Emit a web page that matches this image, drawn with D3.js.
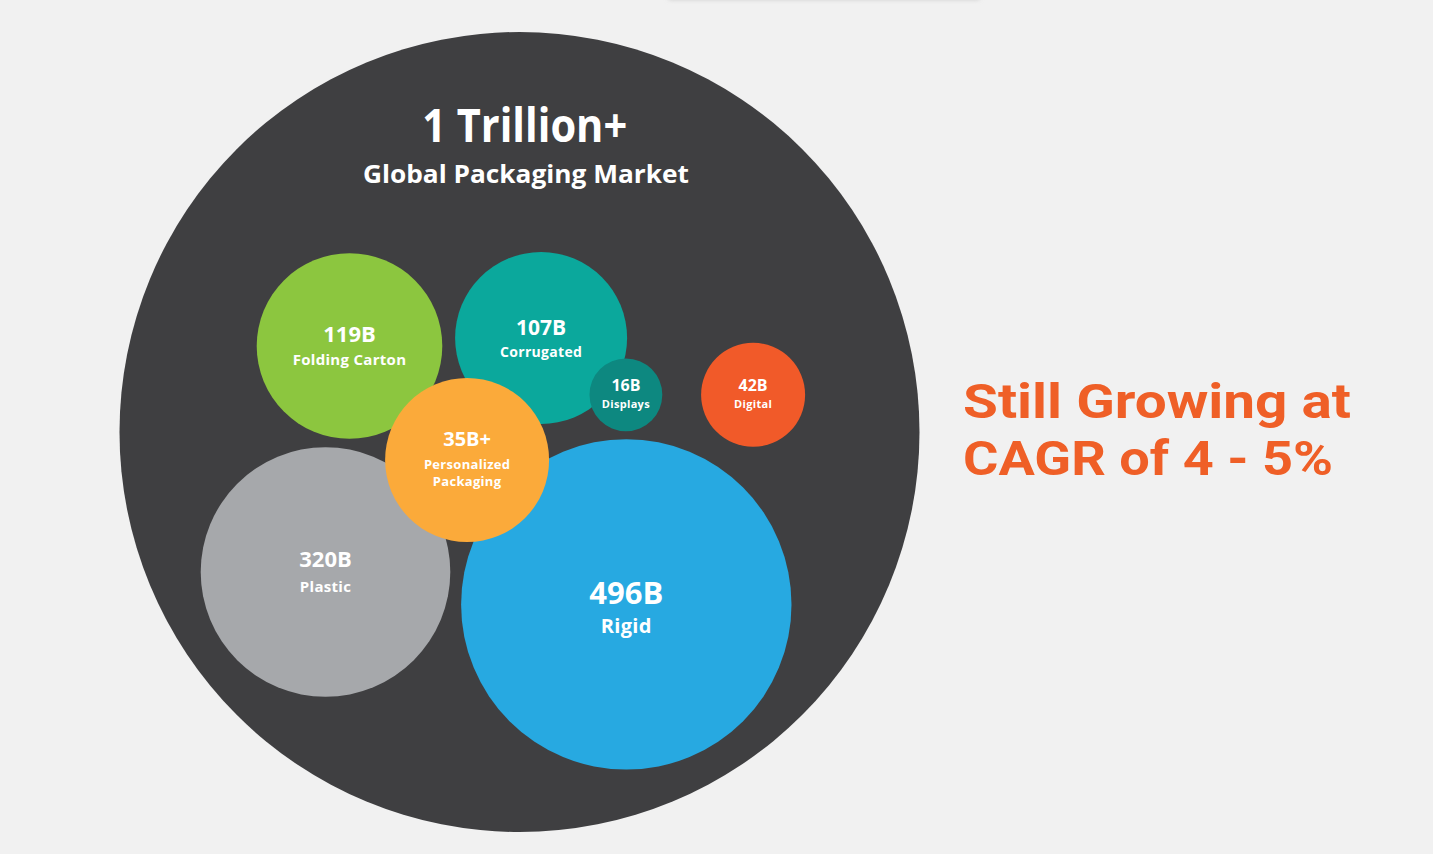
<!DOCTYPE html>
<html>
<head>
<meta charset="utf-8">
<script src="https://cdn.jsdelivr.net/npm/d3@7"></script>
<style>
  html, body { margin: 0; padding: 0; background: #f1f1f1; }
  svg { display: block; }
  text { font-family: "Open Sans", "Noto Sans", sans-serif; font-weight: 700; }
</style>
</head>
<body>
<svg id="chart" width="1433" height="854"></svg>
<script>
// ---- data ----
const totalLabel = "1 Trillion+";
const totalSubLabel = "Global Packaging Market";
const categories = ["Folding Carton", "Corrugated", "Displays", "Digital", "Personalized Packaging", "Plastic", "Rigid"];
const values = [119, 107, 16, 42, 35, 320, 496];
const valueLabels = ["119B", "107B", "16B", "42B", "35B+", "320B", "496B"];
const headline = ["Still Growing at", "CAGR of 4 - 5%"];

// ---- layout (relative to the big circle: offsets in units of its radius) ----
const layoutX = [-0.425, 0.054, 0.266, 0.584, -0.131, -0.485, 0.267];
const layoutY = [-0.215, -0.235, -0.093, -0.093, 0.070, 0.350, 0.431];
const layoutR = [0.232, 0.215, 0.091, 0.130, 0.205, 0.312, 0.413];
const colors = ["#8cc63f", "#0ba89c", "#0d8880", "#f15a29", "#fbaa3a", "#a6a8ab", "#27a9e1"];
const labelSizes = [[22, 15], [21, 14], [16, 11], [16, 11], [20, 13], [22, 15], [31, 20]];

const svg = d3.select("#chart");
const cx0 = 519.5, cy0 = 432, R0 = 400;

// scales mapping unit coordinates to pixels
const x = d3.scaleLinear().domain([-1, 1]).range([cx0 - R0, cx0 + R0]);
const y = d3.scaleLinear().domain([-1, 1]).range([cy0 - R0, cy0 + R0]);
const rs = d3.scaleLinear().domain([0, 1]).range([0, R0]);

// faint top bar shadow
const defs = svg.append("defs");
const f = defs.append("filter").attr("id", "blur").attr("x", "-10%").attr("y", "-200%").attr("width", "120%").attr("height", "500%");
f.append("feGaussianBlur").attr("stdDeviation", 2);
svg.append("rect").attr("x", 668).attr("y", -6).attr("width", 312).attr("height", 6)
  .attr("rx", 3).attr("fill", "#cfcfcf").attr("filter", "url(#blur)");
svg.append("rect").attr("x", 668).attr("y", -6).attr("width", 312).attr("height", 6)
  .attr("fill", "#f1f1f1");

// big circle
svg.append("circle").attr("cx", x(0)).attr("cy", y(0)).attr("r", rs(1)).attr("fill", "#3f3f41");

svg.append("text").attr("x", x(0.013)).attr("y", y(-0.725)).attr("text-anchor", "middle")
  .attr("fill", "#fff").attr("font-size", 46).attr("textLength", 205).attr("lengthAdjust", "spacingAndGlyphs")
  .text(totalLabel);
svg.append("text").attr("x", x(0.016)).attr("y", y(-0.622)).attr("text-anchor", "middle")
  .attr("fill", "#fff").attr("font-size", 25).attr("textLength", 326).attr("lengthAdjust", "spacingAndGlyphs")
  .text(totalSubLabel);

const nodes = categories.map((c, i) => ({
  name: c, value: values[i], label: valueLabels[i],
  cx: x(layoutX[i]), cy: y(layoutY[i]), r: rs(layoutR[i]),
  color: colors[i], sizes: labelSizes[i]
}));

// draw order as in picture
const order = [0, 1, 2, 3, 5, 6, 4];
const g = svg.append("g");
const bubbles = g.selectAll("g.b").data(order.map(i => nodes[i])).join("g").attr("class", "b");
bubbles.append("circle").attr("cx", d => d.cx).attr("cy", d => d.cy).attr("r", d => d.r).attr("fill", d => d.color);

bubbles.each(function(d) {
  const s = d3.select(this);
  const [vs, ls] = d.sizes;
  const words = d.name === "Personalized Packaging" ? ["Personalized", "Packaging"] : [d.name];
  const lineH = ls * 1.3;
  const vBase = d.name === "Personalized Packaging" ? d.cy - 14 :
                d.name === "Corrugated" ? d.cy - 3 :
                d.name === "Rigid" ? d.cy :
                d.name === "Plastic" ? d.cy - 5 : d.cy - 4;
  s.append("text").attr("x", d.cx).attr("y", vBase).attr("text-anchor", "middle")
    .attr("fill", "#fff").attr("font-size", vs).text(d.label);
  const extra = d.name === "Personalized Packaging" ? 2 : d.name === "Plastic" ? 1.5 : 0;
  words.forEach((w, k) => {
    s.append("text").attr("x", d.cx).attr("y", vBase + vs * 0.55 + ls * 0.75 + k * lineH + extra - (d.name === "Rigid" ? 3 : 0))
      .attr("text-anchor", "middle").attr("fill", "#fff").attr("font-size", ls)
      .attr("letter-spacing", 0.3).text(w);
  });
});

// headline
headline.forEach((t, i) => {
  svg.append("text").attr("x", 963).attr("y", 418 + i * 57)
    .attr("fill", "#ef5f27").attr("font-size", 48)
    .style("font-family", "Roboto, 'Open Sans', sans-serif")
    .attr("textLength", i === 0 ? 388 : 370).attr("lengthAdjust", "spacingAndGlyphs")
    .text(t);
});
</script>
</body>
</html>
